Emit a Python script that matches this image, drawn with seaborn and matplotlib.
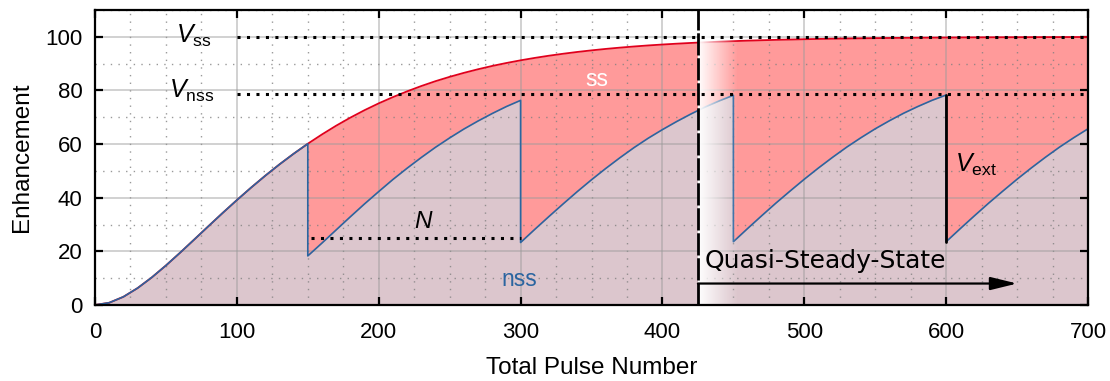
import numpy as np
import pandas as pd
import matplotlib
matplotlib.use("Agg")
import matplotlib.pyplot as plt
from matplotlib.ticker import MultipleLocator
import seaborn as sns

# Steady-state enhancement, sampled every 10 pulses
pulse = np.arange(0, 701, 10)
ss_enh = [0.0, 0.84, 3.05, 6.30, 10.27, 14.74, 19.51, 24.44, 29.41, 34.33, 39.12,
          43.76, 48.20, 52.42, 56.39, 60.13, 63.60, 66.86, 69.86, 72.64, 75.19,
          77.51, 79.66, 81.64, 83.45, 85.07, 86.55, 87.90, 89.13, 90.23, 91.23,
          92.13, 92.95, 93.68, 94.35, 94.94, 95.48, 95.96, 96.39, 96.78, 97.12,
          97.43, 97.71, 97.96, 98.18, 98.38, 98.56, 98.72, 98.86, 98.98, 99.10,
          99.20, 99.29, 99.37, 99.44, 99.50, 99.56, 99.61, 99.65, 99.69, 99.73,
          99.76, 99.79, 99.81, 99.83, 99.85, 99.87, 99.89, 99.90, 99.91, 99.92]

# Non-steady-state recovery after each extraction (every 10 pulses)
extract_at = [150, 300, 450, 600]
rise1 = [18.3, 23.1, 28.0, 32.9, 37.7, 42.3, 46.8, 51.0, 55.0, 58.8, 62.3, 65.6,
         68.6, 71.4, 74.0, 76.3]
rise2 = [23.3, 28.2, 33.0, 37.7, 42.3, 46.7, 50.9, 54.9, 58.7, 62.2, 65.4, 68.4,
         71.2, 73.8, 76.1, 78.2]
rise3 = [23.6, 28.5, 33.3, 38.0, 42.5, 46.9, 51.1, 55.1, 58.9, 62.4, 65.7, 68.7,
         71.5, 74.0, 76.3, 78.3]
rise4 = [23.6, 28.5, 33.3, 38.0, 42.5, 46.9, 51.1, 55.1, 58.9, 62.4, 65.7]

v_ss_level = 100
v_nss_level = 78.5
n_level = 25
qss_start = 425
arrow_end = 650

# assemble nss trace (first part follows the steady-state curve)
first_n = list(pulse[pulse <= extract_at[0]])
nss_x = first_n[:]
nss_y = ss_enh[:len(first_n)]
for start, seg in zip(extract_at, [rise1, rise2, rise3, rise4]):
    xs = list(range(start, start + 10 * len(seg), 10))
    nss_x += xs
    nss_y += seg
ss_df = pd.DataFrame({"pulse": pulse, "enh": ss_enh})
nss_df = pd.DataFrame({"pulse": nss_x, "enh": nss_y})

sns.set_theme(style="ticks")
plt.rcParams["font.family"] = ["Liberation Sans", "DejaVu Sans"]
plt.rcParams["mathtext.fontset"] = "custom"
plt.rcParams["mathtext.rm"] = "Liberation Sans"
plt.rcParams["mathtext.it"] = "Liberation Sans:italic"
for key in ["text.color", "axes.labelcolor", "xtick.color", "ytick.color",
            "xtick.labelcolor", "ytick.labelcolor"]:
    plt.rcParams[key] = "black"

RED_FILL = "#ff9a9a"
NSS_FILL = "#dcc6cd"
RED_LINE = "#e0001c"
BLUE_LINE = "#2b65a0"

fig = plt.figure(figsize=(11.1, 3.81), dpi=100)
ax = fig.add_axes([0.0856, 0.1995, 0.8946, 0.7743])

ax.fill_between(ss_df["pulse"], 0, ss_df["enh"], color=RED_FILL, lw=0, zorder=1)
ax.fill_between(nss_df["pulse"], 0, nss_df["enh"], color=NSS_FILL, lw=0, zorder=1.2)

sns.lineplot(data=ss_df, x="pulse", y="enh", ax=ax, color=RED_LINE, lw=1.3,
             estimator=None, sort=False, legend=False, zorder=3)
sns.lineplot(data=nss_df, x="pulse", y="enh", ax=ax, color=BLUE_LINE, lw=1.2,
             estimator=None, sort=False, legend=False, zorder=3.2)

# extracted volume at the last extraction
ax.plot([extract_at[3], extract_at[3]], [rise4[0], rise3[-1]], color="black",
        lw=2.0, zorder=3.5)

# fading white band at the start of the quasi-steady state
grad = np.ones((2, 256, 4))
grad[..., 3] = np.linspace(1, 0, 256)
ax.imshow(grad, extent=[qss_start, qss_start + 28, 0, 110], aspect="auto",
          interpolation="bilinear", zorder=4)

dot = (0, (1, 2.1))
ax.plot([100, 700], [v_ss_level, v_ss_level], color="black", lw=2.2, ls=dot, zorder=5)
ax.plot([100, 700], [v_nss_level, v_nss_level], color="black", lw=2.2, ls=dot, zorder=5)
ax.plot([extract_at[0] + 2, extract_at[1]], [n_level, n_level], color="black",
        lw=2.2, ls=dot, zorder=5)

ax.axvline(qss_start, color="black", lw=2.0, ls=(0, (8, 1)), zorder=6)
ax.annotate("", xy=(arrow_end, 8), xytext=(qss_start, 8),
            arrowprops=dict(arrowstyle="-|>,head_length=0.9,head_width=0.22",
                            color="black", lw=1.6, shrinkA=0, shrinkB=0,
                            mutation_scale=18), zorder=6)

ax.text(82, 97.9, r"$V_{\rm ss}$", fontsize=18, ha="right", va="baseline", zorder=6)
ax.text(84, 77.4, r"$V_{\rm nss}$", fontsize=18, ha="right", va="baseline", zorder=6)
ax.text(232, 31, r"$N$", fontsize=17.5, ha="center", va="center", zorder=6)
ax.text(606, 49.6, r"$V_{\rm ext}$", fontsize=18, ha="left", va="baseline", zorder=6)
ax.text(354, 84.2, "ss", color="white", fontsize=16.5, ha="center", va="center", zorder=6)
ax.text(299, 9.5, "nss", color=BLUE_LINE, fontsize=16.5, ha="center", va="center", zorder=6)
ax.text(430, 13.8, "Quasi-Steady-State", fontsize=18, family="DejaVu Sans",
        ha="left", va="baseline", zorder=6)

ax.set_xlim(0, 700)
ax.set_ylim(0, 110)
ax.xaxis.set_major_locator(MultipleLocator(100))
ax.yaxis.set_major_locator(MultipleLocator(20))
ax.xaxis.set_minor_locator(MultipleLocator(25))
ax.yaxis.set_minor_locator(MultipleLocator(10))
ax.set_axisbelow(False)
ax.grid(which="major", color="#9a9a9a", alpha=0.45, lw=1.4, ls="-")
ax.grid(which="minor", color="#808080", alpha=0.8, lw=1.0, ls=(0, (1, 4.5)))
ax.tick_params(which="major", direction="in", length=6, width=1.6, top=True,
               right=True, labelsize=16, pad=9)
ax.tick_params(axis="x", which="major", pad=12)
ax.tick_params(which="minor", length=0)
for sp in ax.spines.values():
    sp.set_linewidth(1.6)
    sp.set_color("black")
    sp.set_zorder(7)

ax.set_xlabel("Total Pulse Number", fontsize=17.5, labelpad=10)
ax.set_ylabel("Enhancement", fontsize=17.5, labelpad=9)

fig.savefig("out.png", dpi=100)
